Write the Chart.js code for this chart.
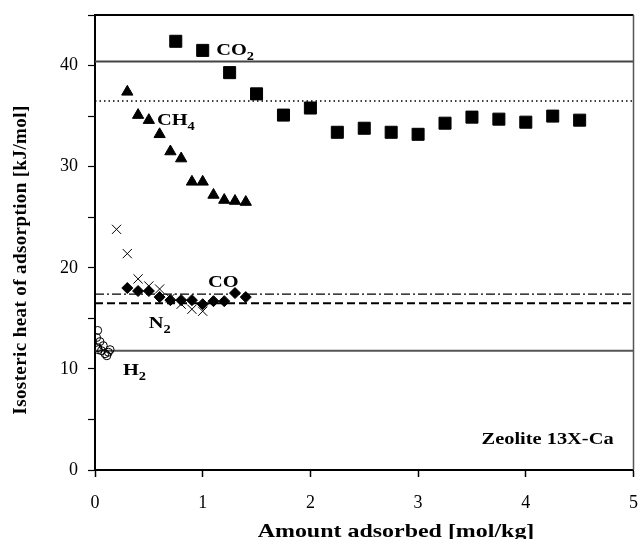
<!DOCTYPE html>
<html>
<head>
<meta charset="utf-8">
<script src="https://cdn.jsdelivr.net/npm/chart.js@4.4.0/dist/chart.umd.min.js"></script>
<style>
  html, body { margin: 0; background: #fff; overflow: hidden; }
  /* a little wider than the window: chart.js keeps ~10px on the right */
  #wrap { width: 643px; height: 539px; }
</style>
</head>
<body>
<div id="wrap"><canvas id="heatChart"></canvas></div>
<script>
// isosteric heat data, zeolite 13X-Ca
const co2X = [0.75, 1.0, 1.25, 1.5, 1.75, 2.0, 2.25, 2.5, 2.75, 3.0, 3.25, 3.5, 3.75, 4.0, 4.25, 4.5];
const co2Y = [42.4, 41.5, 39.3, 37.2, 35.1, 35.8, 33.4, 33.8, 33.4, 33.2, 34.3, 34.9, 34.7, 34.4, 35.0, 34.6];

const ch4X = [0.3, 0.4, 0.5, 0.6, 0.7, 0.8, 0.9, 1.0, 1.1, 1.2, 1.3, 1.4];
const ch4Y = [37.4, 35.1, 34.6, 33.2, 31.5, 30.8, 28.5, 28.5, 27.2, 26.7, 26.6, 26.5];

const coX = [0.3, 0.4, 0.5, 0.6, 0.7, 0.8, 0.9, 1.0, 1.1, 1.2, 1.3, 1.4];
const coY = [18.0, 17.7, 17.7, 17.1, 16.8, 16.8, 16.8, 16.4, 16.7, 16.7, 17.5, 17.1];

const n2X = [0.2, 0.3, 0.4, 0.5, 0.6, 0.7, 0.8, 0.9, 1.0];
const n2Y = [23.8, 21.4, 18.9, 18.2, 17.9, 17.0, 16.4, 15.9, 15.7];

const h2X = [0.015, 0.025, 0.046, 0.025, 0.03, 0.06, 0.077, 0.093, 0.11, 0.124, 0.14];
const h2Y = [13.1, 13.8, 12.7, 12.1, 11.9, 11.8, 12.3, 11.5, 11.3, 11.65, 11.9];

// horizontal reference levels
const refLevels = [40.4, 36.5, 17.4, 16.5, 11.8];
const xRange = [0, 5];
const yTicks = [0, 10, 20, 30, 40];

// text notes in data units
const notes = [
  { text: 'CO', sub: '2', x: 1.125, y: 41.0 },
  { text: 'CH', sub: '4', x: 0.575, y: 34.1 },
  { text: 'CO', sub: '', x: 1.05, y: 18.1 },
  { text: 'N', sub: '2', x: 0.5, y: 14.0 },
  { text: 'H', sub: '2', x: 0.26, y: 9.4 }
];

const toPts = (xs, ys) => xs.map((x, i) => ({ x: x, y: ys[i] }));
const levelLine = v => xRange.map(x => ({ x: x, y: v }));

const SERIF = "'Liberation Serif', 'Times New Roman', serif";
const STRETCH = 1.2;

function stretchText(ctx, text, x, y, sx) {
  ctx.save();
  ctx.translate(x, y);
  ctx.scale(sx, 1);
  ctx.fillText(text, 0, 0);
  ctx.restore();
}

const textPlugin = {
  id: 'textPlugin',
  afterDraw(chart) {
    const ctx = chart.ctx;
    const xs = chart.scales.x, ys = chart.scales.y;
    const a = chart.chartArea;
    ctx.save();
    // top and right frame
    ctx.strokeStyle = '#000';
    ctx.lineWidth = 2;
    ctx.beginPath();
    ctx.moveTo(a.left, a.top);
    ctx.lineTo(a.right, a.top);
    ctx.stroke();
    ctx.strokeStyle = '#555';
    ctx.lineWidth = 1.5;
    ctx.beginPath();
    ctx.moveTo(a.right, a.top);
    ctx.lineTo(a.right, a.bottom);
    ctx.stroke();

    ctx.fillStyle = '#000';
    ctx.textBaseline = 'alphabetic';
    ctx.textAlign = 'left';
    notes.forEach(n => {
      const px = xs.getPixelForValue(n.x);
      const py = ys.getPixelForValue(n.y);
      ctx.font = 'bold 17px ' + SERIF;
      stretchText(ctx, n.text, px, py, STRETCH);
      const w = ctx.measureText(n.text).width * STRETCH;
      if (n.sub) {
        ctx.font = 'bold 12px ' + SERIF;
        stretchText(ctx, n.sub, px + w, py + 5, STRETCH);
      }
    });

    ctx.font = 'bold 17px ' + SERIF;
    ctx.textAlign = 'right';
    stretchText(ctx, 'Zeolite 13X-Ca', xs.getPixelForValue(4.815), ys.getPixelForValue(2.55), STRETCH);

    // axis titles
    ctx.font = 'bold 19px ' + SERIF;
    ctx.textAlign = 'center';
    stretchText(ctx, 'Amount adsorbed [mol/kg]', 396, 537, 1.26);

    ctx.save();
    ctx.translate(26, 260);
    ctx.rotate(-Math.PI / 2);
    ctx.font = 'bold 19px ' + SERIF;
    ctx.letterSpacing = '0.4px';
    ctx.fillText('Isosteric heat of adsorption [kJ/mol]', 0, 0);
    ctx.restore();
    ctx.restore();
  }
};

const markerDs = (label, pts, style, radius, filled) => ({
  label: label,
  data: pts,
  showLine: false,
  pointStyle: style,
  pointRadius: radius,
  pointHoverRadius: radius,
  pointBackgroundColor: filled ? '#000' : 'rgba(0,0,0,0)',
  pointBorderColor: '#000',
  pointBorderWidth: 1
});

const lineDs = (v, color, width, dash) => ({
  label: 'ref ' + v,
  data: levelLine(v),
  showLine: true,
  pointRadius: 0,
  borderColor: color,
  borderWidth: width,
  borderDash: dash
});

new Chart(document.getElementById('heatChart'), {
  type: 'scatter',
  data: {
    datasets: [
      markerDs('CO2', toPts(co2X, co2Y), 'rect', 8.5, true),
      markerDs('CH4', toPts(ch4X, ch4Y), 'triangle', 6.5, true),
      markerDs('CO', toPts(coX, coY), 'rectRot', 5.5, true),
      markerDs('N2', toPts(n2X, n2Y), 'crossRot', 6.5, false),
      markerDs('H2', toPts(h2X, h2Y), 'circle', 4, false),
      lineDs(refLevels[0], '#444', 2, []),
      lineDs(refLevels[1], '#000', 1.5, [1.5, 3]),
      lineDs(refLevels[2], '#000', 1.2, [9, 3, 2, 3]),
      lineDs(refLevels[3], '#000', 2, [8, 4]),
      lineDs(refLevels[4], '#555', 2, [])
    ]
  },
  options: {
    responsive: true,
    maintainAspectRatio: false,
    animation: false,
    layout: { padding: { left: 0, right: 0, top: 15, bottom: 0 } },
    plugins: {
      legend: { display: false },
      tooltip: { enabled: false }
    },
    scales: {
      x: {
        type: 'linear',
        min: xRange[0],
        max: xRange[1],
        ticks: { stepSize: 1, color: '#000', padding: 15, font: { family: SERIF, size: 18 } },
        grid: { drawOnChartArea: false, tickLength: 7, color: '#000', tickWidth: 1.5 },
        border: { color: '#000', width: 2 },
        afterFit: s => { s.height = 69; s.paddingLeft = 0; s.paddingRight = 0; }
      },
      y: {
        min: 0,
        max: 45,
        ticks: {
          stepSize: 5,
          color: '#000',
          padding: 10,
          font: { family: SERIF, size: 18 },
          callback: v => (yTicks.includes(v) ? v : '')
        },
        grid: { drawOnChartArea: false, tickLength: 7, color: '#000', tickWidth: 1.2 },
        border: { color: '#000', width: 2 },
        afterFit: s => { s.width = 95; s.paddingTop = 0; s.paddingBottom = 0; }
      }
    }
  },
  plugins: [textPlugin]
});
</script>
</body>
</html>
